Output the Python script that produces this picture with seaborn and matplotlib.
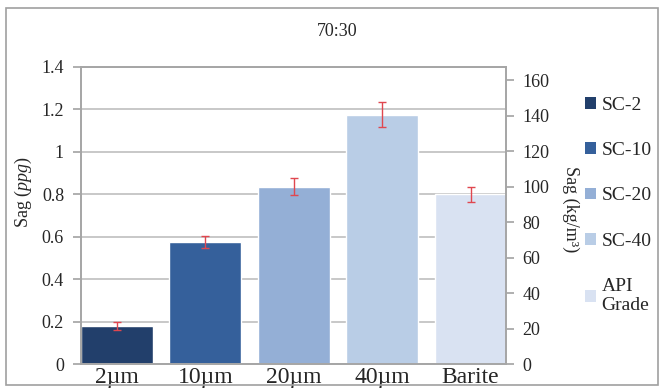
import numpy as np
import matplotlib.pyplot as plt
import seaborn as sns
from matplotlib.patches import Patch, Rectangle

# Data
sizes = ['2µm', '10µm', '20µm', '40µm', 'Barite']
series = ['SC-2', 'SC-10', 'SC-20', 'SC-40', 'API\nGrade']
sag_ppg = [0.18, 0.575, 0.835, 1.175, 0.80]
sag_err = [0.02, 0.03, 0.04, 0.058, 0.035]
ppg_ticks = [0, 0.2, 0.4, 0.6, 0.8, 1.0, 1.2, 1.4]
ppg_labels = ['0', '0.2', '0.4', '0.6', '0.8', '1', '1.2', '1.4']
kg_ticks = [0, 20, 40, 60, 80, 100, 120, 140, 160]
colors = ['#223f6b', '#35609b', '#94afd6', '#b9cde6', '#d9e2f2']
PPG_TO_KGM3 = 119.826

sns.set_theme(style='white')
plt.rcParams['font.family'] = ['Liberation Serif', 'DejaVu Serif']
plt.rcParams['mathtext.fontset'] = 'custom'
plt.rcParams['mathtext.rm'] = 'Liberation Serif'
plt.rcParams['mathtext.it'] = 'Liberation Serif:italic'

grey = '#a6a6a6'

fig = plt.figure(figsize=(6.63, 3.88), dpi=100)
ax = fig.add_axes([0.1217, 0.061, 0.6414, 0.767])

sns.barplot(x=sizes, y=sag_ppg, hue=sizes, palette=colors, width=0.815,
            saturation=1, legend=False, ax=ax)
ax.errorbar(np.arange(len(sizes)), sag_ppg, yerr=sag_err, fmt='none',
            ecolor='#e0474f', elinewidth=1, capsize=3, capthick=1, zorder=3)

ax.set_xlim(-0.41, 4.40)
ax.set_ylim(0, 1.4)
ax.set_yticks(ppg_ticks)
ax.set_yticklabels(ppg_labels)
ax.set_axisbelow(True)
ax.yaxis.grid(True, color='#bfbfbf', lw=1.2)
ax.tick_params(axis='y', left=True, length=6, color=grey, labelsize=13, pad=6)
ax.tick_params(axis='x', length=0, labelsize=17, pad=2)
for s in ax.spines.values():
    s.set_color(grey)
ax.set_ylabel('Sag ($\\it{ppg}$)', fontsize=13)
ax.yaxis.set_label_coords(-0.11, 0.58)

# Secondary axis in kg/m3
ax2 = ax.twinx()
ax2.set_ylim(0, 1.4 * PPG_TO_KGM3)
ax2.set_yticks(kg_ticks)
ax2.grid(False)
ax2.tick_params(axis='y', right=True, length=6, color=grey, labelsize=13, pad=6)
for s in ax2.spines.values():
    s.set_color(grey)
ax2.set_ylabel('Sag (kg/m³)', fontsize=13, rotation=270, va='bottom')
ax2.yaxis.set_label_coords(1.132, 0.52)

fig.text(337 / 663, 1 - 32 / 388, '70:30', ha='center', va='center', fontsize=13)

handles = [Patch(facecolor=c, edgecolor='none') for c in colors]
fig.legend(handles, series, loc='upper left', bbox_to_anchor=(585 / 663, 1 - 97 / 388),
           frameon=False, fontsize=14, handlelength=0.55, handleheight=0.55,
           handletextpad=0.3, labelspacing=1.45, borderpad=0, borderaxespad=0)

fig.add_artist(Rectangle((6 / 663, 3 / 388), 652 / 663, 377 / 388, transform=fig.transFigure,
                         fill=False, edgecolor='#a0a0a0', lw=1.2))

fig.savefig('out.png', dpi=100)
